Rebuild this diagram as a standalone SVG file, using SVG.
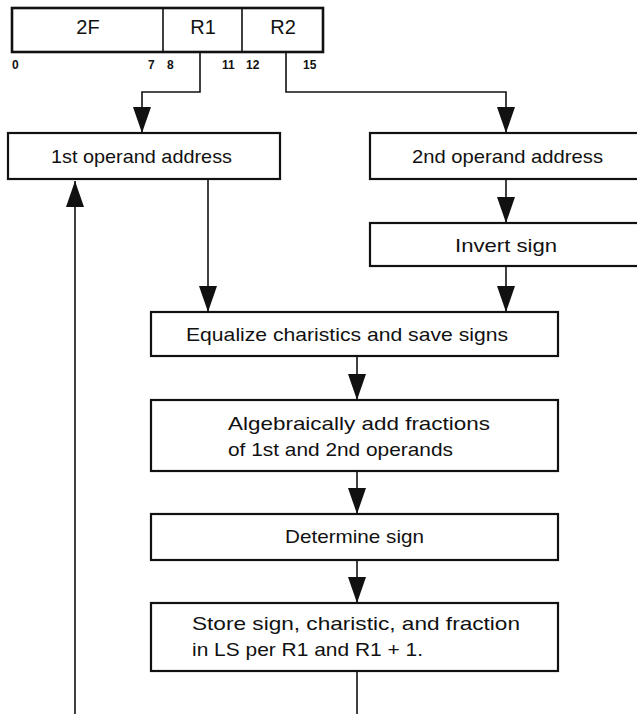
<svg xmlns="http://www.w3.org/2000/svg" width="637" height="714" viewBox="0 0 637 714">
  <style>
    .box { fill: #fff; stroke: #111; stroke-width: 2.2; }
    .reg { fill: #fff; stroke: #111; stroke-width: 2.6; }
    .div { stroke: #111; stroke-width: 1.6; }
    .lbl { font-family: "Liberation Sans", Arial, sans-serif; font-size: 19px; fill: #111; }
    .big { font-size: 20px; }
    .bit { font-family: "Liberation Sans", Arial, sans-serif; font-size: 12px; font-weight: bold; fill: #111; }
    .wire { fill: none; stroke: #111; stroke-width: 1.6; }
  </style>
  <defs>
    <marker id="down" viewBox="0 0 18 26" refX="9" refY="26" markerWidth="18" markerHeight="26" markerUnits="userSpaceOnUse" orient="0">
      <path d="M0,0 L18,0 L9,26 z" fill="#111"/>
    </marker>
    <marker id="up" viewBox="0 0 18 26" refX="9" refY="0" markerWidth="18" markerHeight="26" markerUnits="userSpaceOnUse" orient="0">
      <path d="M9,0 L18,26 L0,26 z" fill="#111"/>
    </marker>
  </defs>

  <!-- instruction format: op code, R1, R2 -->
  <g id="format">
    <rect class="reg" x="12" y="8" width="311" height="44"/>
    <line class="div" x1="163" y1="8" x2="163" y2="52"/>
    <line class="div" x1="242" y1="8" x2="242" y2="52"/>
    <text class="lbl big" x="88" y="34" text-anchor="middle">2F</text>
    <text class="lbl big" x="203" y="34" text-anchor="middle">R1</text>
    <text class="lbl big" x="283" y="34" text-anchor="middle">R2</text>
    <text class="bit" x="12" y="69">0</text>
    <text class="bit" x="148" y="69">7</text>
    <text class="bit" x="167" y="69">8</text>
    <text class="bit" x="222" y="69">11</text>
    <text class="bit" x="246" y="69">12</text>
    <text class="bit" x="303" y="69">15</text>
  </g>

  <g id="op1">
    <rect class="box" x="8" y="133" width="272" height="46"/>
    <text class="lbl" x="51" y="163" textLength="181" lengthAdjust="spacingAndGlyphs">1st operand address</text>
  </g>

  <g id="op2">
    <rect class="box" x="370" y="133" width="280" height="46"/>
    <text class="lbl" x="412" y="163" textLength="191" lengthAdjust="spacingAndGlyphs">2nd operand address</text>
  </g>

  <g id="invert">
    <rect class="box" x="370" y="223" width="280" height="43"/>
    <text class="lbl" x="455" y="252" textLength="102" lengthAdjust="spacingAndGlyphs">Invert sign</text>
  </g>

  <g id="equalize">
    <rect class="box" x="151" y="312" width="407" height="44"/>
    <text class="lbl" x="186" y="341" textLength="322" lengthAdjust="spacingAndGlyphs">Equalize charistics and save signs</text>
  </g>

  <g id="add">
    <rect class="box" x="151" y="400" width="407" height="71"/>
    <text class="lbl" x="228" y="430" textLength="262" lengthAdjust="spacingAndGlyphs">Algebraically add fractions</text>
    <text class="lbl" x="228" y="456" textLength="225" lengthAdjust="spacingAndGlyphs">of 1st and 2nd operands</text>
  </g>

  <g id="sign">
    <rect class="box" x="151" y="514" width="407" height="46"/>
    <text class="lbl" x="285" y="543" textLength="139" lengthAdjust="spacingAndGlyphs">Determine sign</text>
  </g>

  <g id="store">
    <rect class="box" x="151" y="603" width="407" height="68"/>
    <text class="lbl" x="192" y="630" textLength="328" lengthAdjust="spacingAndGlyphs">Store sign, charistic, and fraction</text>
    <text class="lbl" x="192" y="656" textLength="231" lengthAdjust="spacingAndGlyphs">in LS per R1 and R1 + 1.</text>
  </g>

  <g id="connectors">
    <polyline class="wire" points="200,52 200,92 142,92 142,133" marker-end="url(#down)"/>
    <polyline class="wire" points="286,52 286,92 506,92 506,133" marker-end="url(#down)"/>
    <line class="wire" x1="506" y1="179" x2="506" y2="223" marker-end="url(#down)"/>
    <line class="wire" x1="506" y1="266" x2="506" y2="312" marker-end="url(#down)"/>
    <line class="wire" x1="208" y1="179" x2="208" y2="312" marker-end="url(#down)"/>
    <line class="wire" x1="357" y1="356" x2="357" y2="400" marker-end="url(#down)"/>
    <line class="wire" x1="357" y1="471" x2="357" y2="514" marker-end="url(#down)"/>
    <line class="wire" x1="357" y1="560" x2="357" y2="603" marker-end="url(#down)"/>
    <line class="wire" x1="357" y1="671" x2="357" y2="714"/>
    <line class="wire" x1="75" y1="714" x2="75" y2="181" marker-end="url(#up)"/>
  </g>
</svg>
